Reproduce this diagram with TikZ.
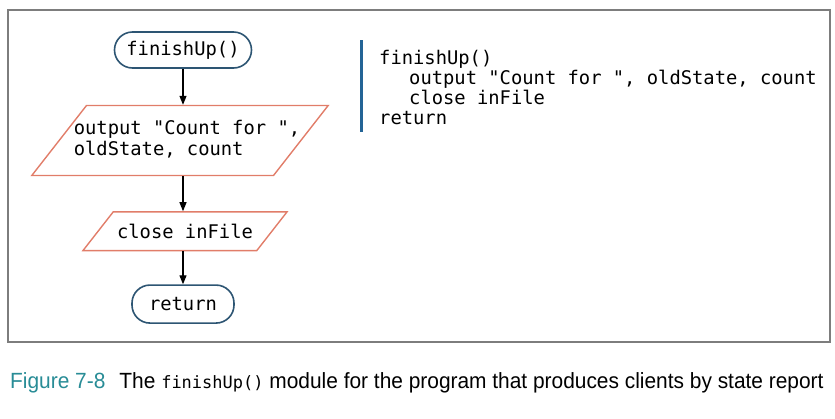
\documentclass[tikz,border=0pt]{standalone}
\usepackage{fontspec}
\setmainfont{Liberation Sans}
\newfontfamily\codefont{DejaVu Sans Mono}
\newfontfamily\capfont[FakeStretch=0.95]{Liberation Sans}
\usepackage{tikz}
\usetikzlibrary{shapes.geometric, arrows.meta, positioning}
\usepackage{xcolor}
\definecolor{marco}{RGB}{125,125,125}
\definecolor{terminal}{RGB}{45,85,115}
\definecolor{entrada}{RGB}{225,125,105}
\definecolor{barra}{RGB}{35,100,150}
\definecolor{figura}{RGB}{40,140,150}
\tikzset{
  termbox/.style={rectangle, rounded corners=18pt, draw=terminal, line width=1.6pt,
                  font=\codefont\fontsize{18.8}{20}\selectfont, inner sep=0pt},
  iobox/.style={trapezium, trapezium stretches body=true, draw=entrada, line width=1.4pt,
                trapezium left angle=52, trapezium right angle=128, inner xsep=2pt,
                font=\codefont\fontsize{18.8}{21}\selectfont, align=left},
  flecha/.style={-{Triangle[length=9pt, width=7pt]}, line width=1.2pt}
}

\begin{document}
\begin{tikzpicture}[x=1pt, y=-1pt, node distance=35pt]
    \useasboundingbox (0,0) rectangle (835,418);
    \draw[marco, line width=1.5pt] (8,10) rectangle (830,342);
    % flowchart
    \node[termbox, minimum width=137pt, minimum height=36pt] (inicio) at (183,50) {finishUp()};
    \node[iobox, below=36pt of inicio, xshift=-3pt, inner xsep=0pt, inner ysep=14pt] (salida)
      {\makebox[187pt]{\hspace{14pt}\begin{tabular}{@{}l@{}}output "Count for ",\\oldState, count\end{tabular}}};
    \node[iobox, below=of salida, xshift=5pt, minimum width=204pt, inner ysep=12pt] (cierre) {close inFile};
    \node[termbox, below=33pt of cierre, xshift=-2pt, minimum width=102pt, minimum height=38pt] (fin) {return};
    \draw[flecha] (inicio.south) -- (inicio.south |- salida.north);
    \draw[flecha] (inicio.south |- salida.south) -- (inicio.south |- cierre.north);
    \draw[flecha] (inicio.south |- cierre.south) -- (fin.north);
    % pseudocode
    \draw[barra, line width=3pt] (361,40) -- (361,132);
    \node[anchor=north west, align=left, inner sep=0pt,
          font=\codefont\fontsize{18.8}{20}\selectfont] (codigo) at (379,50)
      {finishUp()\\
       \hspace*{30pt}output "Count for ", oldState, count\\
       \hspace*{30pt}close inFile\\
       return};
    % caption
    \node[anchor=west, inner sep=0pt, font=\capfont\fontsize{22}{26}\selectfont] (leyenda) at (10,383)
      {\textcolor{figura}{Figure 7-8}\hspace{14pt}The {\codefont\fontsize{17}{20}\selectfont finishUp()} module for the program that produces clients by state report};
\end{tikzpicture}
\end{document}
